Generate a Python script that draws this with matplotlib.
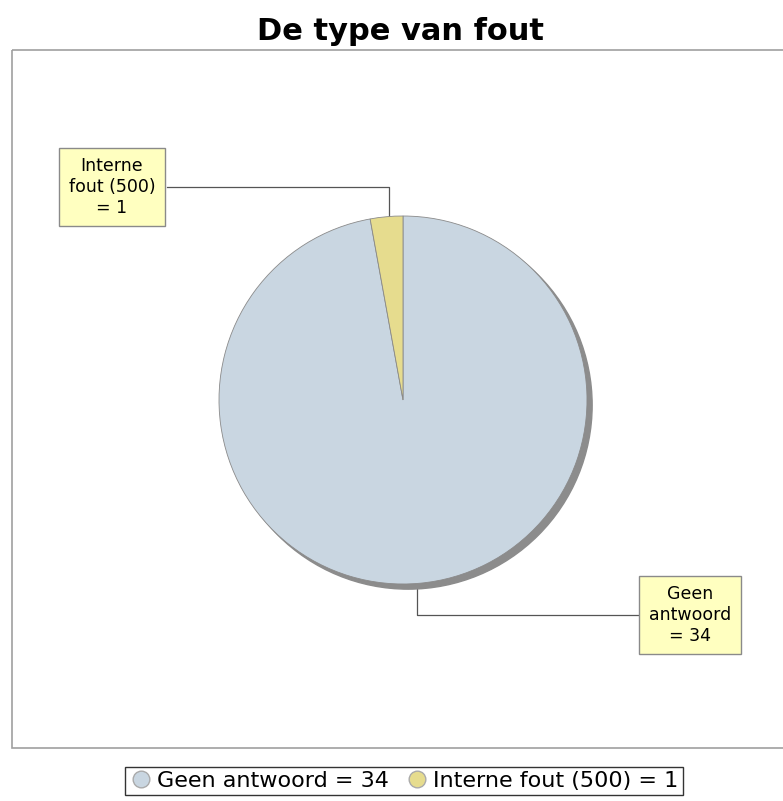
import numpy as np
import matplotlib.pyplot as plt
from matplotlib.patches import Rectangle, Circle
from matplotlib.lines import Line2D

labels = ['Geen antwoord', 'Interne fout (500)']
values = [34, 1]
box_text = ['Geen\nantwoord\n= 34', 'Interne\nfout (500)\n= 1']
colors = ['#c9d6e1', '#e6dc8e']

W, H = 783, 801
fig = plt.figure(figsize=(W / 100, H / 100), dpi=100)

# overlay in pixel coords (y downwards)
bg = fig.add_axes([0, 0, 1, 1])
bg.set_xlim(0, W)
bg.set_ylim(H, 0)
bg.axis('off')
bg.add_patch(Rectangle((12, 50), W, 698, fill=False, ec='#a0a0a0', lw=1.2))
bg.text(W / 2 + 9, 31, 'De type van fout', ha='center', va='center',
        fontsize=22, fontweight='bold')

cx, cy, r = 403, 400, 184
ax = fig.add_axes([(cx - r) / W, 1 - (cy + r) / H, 2 * r / W, 2 * r / H])
ax.add_patch(Circle((0.028, -0.028), 1, color='#8c8c8c', zorder=0, clip_on=False))
wedges, _ = ax.pie(values, colors=colors, startangle=90, counterclock=False,
                   radius=1, wedgeprops=dict(edgecolor='#8a8a8a', linewidth=0.6))
for w in wedges:
    w.set_clip_on(False)
ax.set_xlim(-1, 1)
ax.set_ylim(-1, 1)
ax.set_aspect('equal')
ax.axis('off')

# label boxes with connector lines
label_pos = [(690, 615), (112, 187)]
line_x0 = [638, 167]
for w, txt, (lx, ly), x0 in zip(wedges, box_text, label_pos, line_x0):
    ang = np.deg2rad((w.theta1 + w.theta2) / 2)
    axp = cx + 0.87 * r * np.cos(ang)
    ayp = cy - 0.87 * r * np.sin(ang)
    bg.plot([x0, axp, axp], [ly, ly, ayp], color='#555555', lw=0.9, zorder=2)
    bg.text(lx, ly, txt, ha='center', va='center', fontsize=12.5,
            linespacing=1.2, zorder=3,
            bbox=dict(boxstyle='square,pad=0.55', fc='#ffffc0', ec='#8a8a8a', lw=1))

handles = [Line2D([], [], marker='o', ls='none', markersize=12,
                  markerfacecolor=c, markeredgecolor='#aaaaaa')
           for c in colors]
leg_labels = [f'{l} = {v}' for l, v in zip(labels, values)]
leg = fig.legend(handles, leg_labels, loc='center', ncol=2,
                 bbox_to_anchor=(404 / W, 1 - 781 / H), fontsize=16,
                 frameon=True, fancybox=False, handletextpad=0.2,
                 columnspacing=0.8, handlelength=1.0, borderpad=0.2,
                 borderaxespad=0)
leg.get_frame().set_edgecolor('black')
leg.get_frame().set_linewidth(1)

fig.savefig('out.png', dpi=100)
